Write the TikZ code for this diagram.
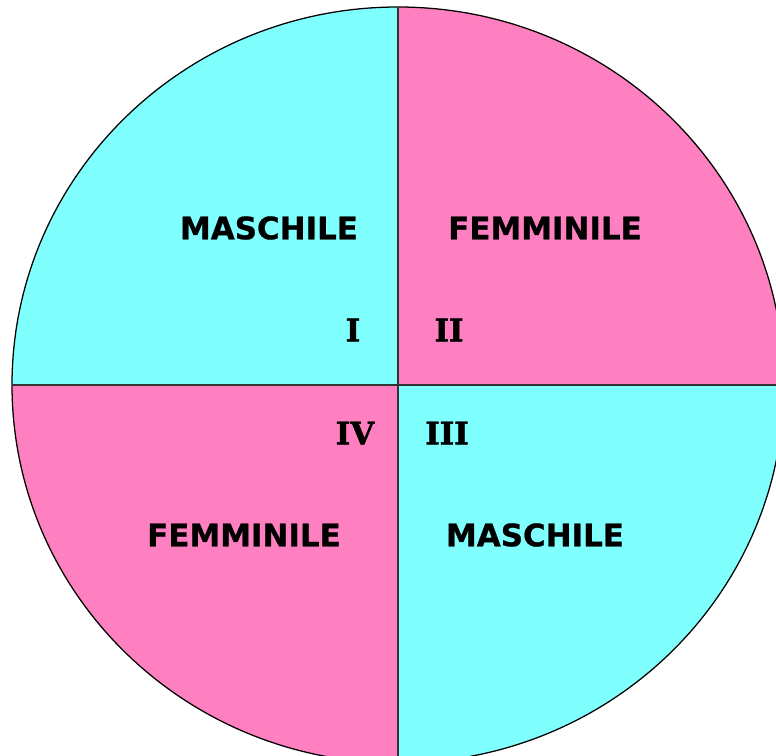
\documentclass[tikz,border=0pt]{standalone}
\usepackage{fontspec}
\usepackage{xcolor}
\usepackage{tikz}
\usetikzlibrary{positioning}
\newfontfamily\labelfont[FakeBold=0.8]{DejaVu Sans Bold}
\newfontfamily\romanfont[FakeBold=1.5]{DejaVu Serif Bold}
\definecolor{maleblue}{HTML}{80FFFF}
\definecolor{femalepink}{HTML}{FF80C0}

\begin{document}
\begin{tikzpicture}[
    x=0.025cm, y=-0.025cm,
    quadlabel/.style={
        inner sep=0pt,
        font=\labelfont\fontsize{22}{22}\selectfont
    },
    numlabel/.style={
        inner sep=0pt,
        font=\romanfont\fontsize{22}{22}\selectfont
    },
    divider/.style={draw=black!80, line width=1.2pt}
]

% Frame
\useasboundingbox (0,0) rectangle (776,756);
\clip (0,0) rectangle (776,756);
\fill[white] (0,0) rectangle (776,756);

% Quadrants
\coordinate (O) at (398,385);
\fill[maleblue] (O) -- (12,385) arc[start angle=180, end angle=90, x radius=386, y radius=-378] -- cycle;
\fill[femalepink] (O) -- (398,7) arc[start angle=90, end angle=0, x radius=386, y radius=-378] -- cycle;
\fill[maleblue] (O) -- (784,385) arc[start angle=0, end angle=-90, x radius=386, y radius=-378] -- cycle;
\fill[femalepink] (O) -- (398,763) arc[start angle=-90, end angle=-180, x radius=386, y radius=-378] -- cycle;

% Outline and dividers
\draw[black, line width=0.9pt] (O) ellipse[x radius=386, y radius=378];
\draw[divider] (12,385) -- (784,385);
\draw[divider] (398,7) -- (398,763);

% Labels
\node[quadlabel] (maleI) at (269,228) {MASCHILE};
\node[quadlabel] (femaleII) at (545,228) {FEMMINILE};
\node[quadlabel] (femaleIV) at (244,535) {FEMMINILE};
\node[quadlabel] (maleIII) at (535,535) {MASCHILE};

% Quadrant numbers
\node[numlabel] (numI) at (353,330) {I};
\node[numlabel] (numII) at (449,330) {II};
\node[numlabel] (numIV) at (355,433) {IV};
\node[numlabel] (numIII) at (447,433) {III};

\end{tikzpicture}
\end{document}
